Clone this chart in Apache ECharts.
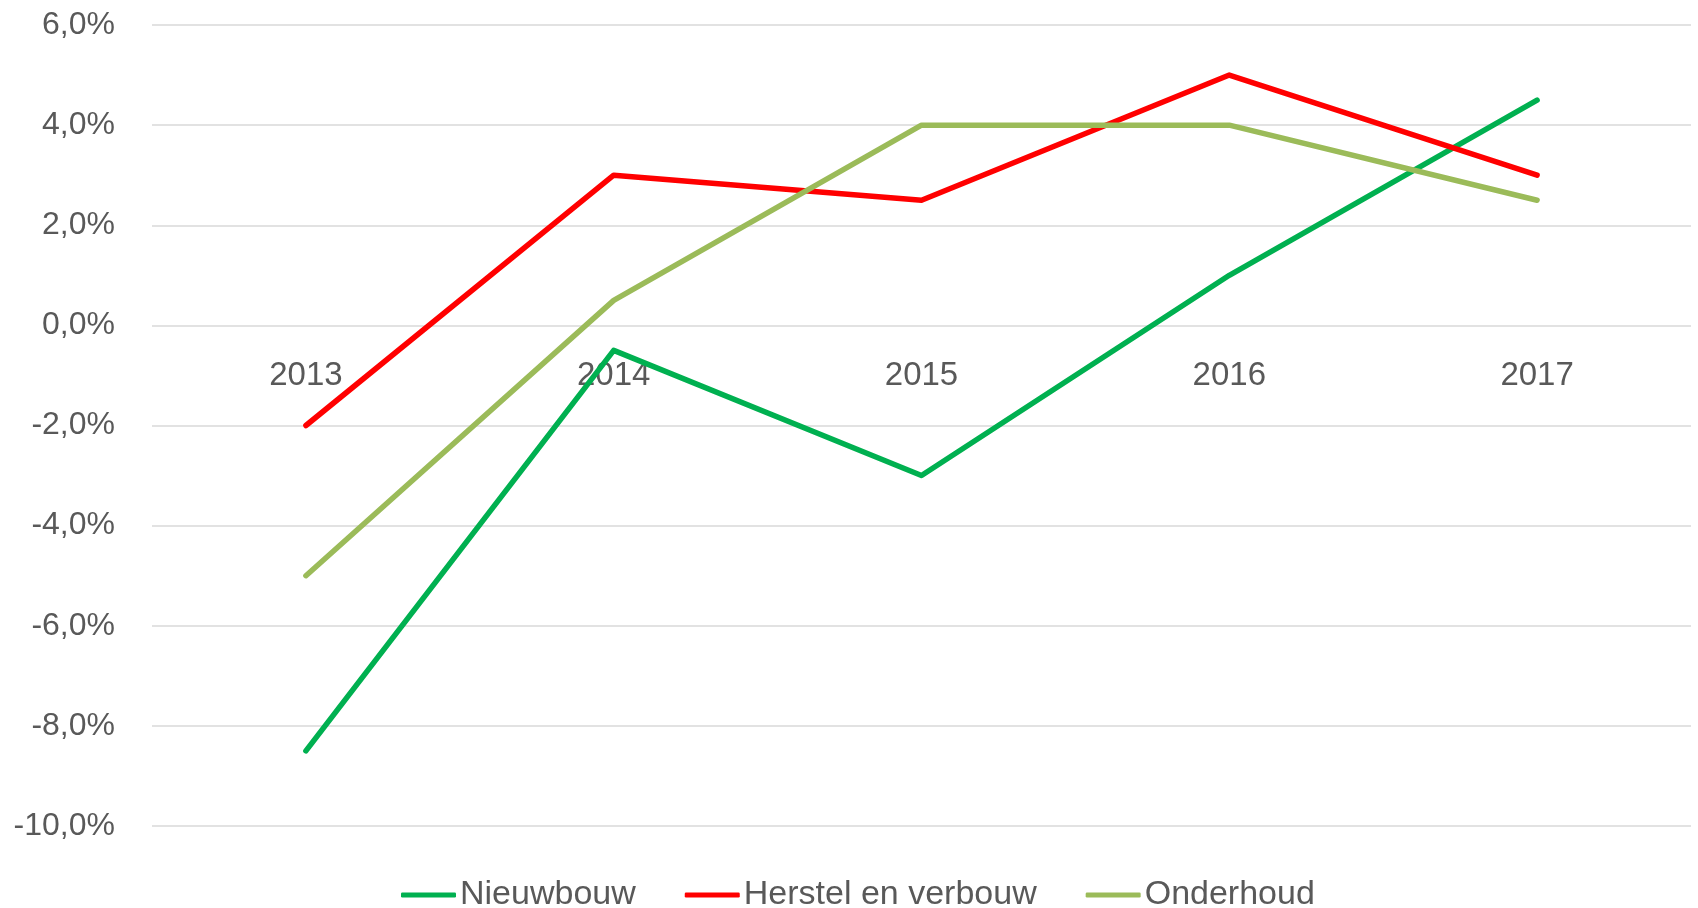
<!DOCTYPE html>
<html>
<head>
<meta charset="utf-8">
<script src="https://cdn.jsdelivr.net/npm/echarts@6/dist/echarts.min.js"></script>
<style>
  html, body { margin: 0; padding: 0; background: #fff; }
  #chart { width: 1698px; height: 908px; }
</style>
</head>
<body>
<div id="chart"></div>
<script>
// jaren op de x-as
const years = ['2013', '2014', '2015', '2016', '2017']
// procentuele groei per sector
const nieuwbouw = [-8.5, -0.5, -3.0, 1.0, 4.5]
const herstelEnVerbouw = [-2.0, 3.0, 2.5, 5.0, 3.0]
const onderhoud = [-5.0, 0.5, 4.0, 4.0, 2.5]
// y-as bereik
const yMin = -10
const yMax = 6
const yStep = 2

const textColor = '#595959'
const font = 'Liberation Sans'

// plotgebied
const gridTop = 25
const gridBottom = 82
const plotHeight = 908 - gridTop - gridBottom
// afstand van onderkant tot de nullijn, zodat de jaartallen onder 0% staan
const zeroOffset = plotHeight * (0 - yMin) / (yMax - yMin)

const makeLine = (name, data, color) => ({
  name,
  type: 'line',
  data,
  symbol: 'none',
  lineStyle: {width: 5.5, color, cap: 'round', join: 'round'},
  itemStyle: {color},
  emphasis: {disabled: true}
})

const chart = echarts.init(document.getElementById('chart'))
chart.setOption({
  animation: false,
  textStyle: {fontFamily: font},
  grid: {left: 152, right: 7, top: gridTop, bottom: gridBottom},
  legend: {
    left: 396,
    top: 873,
    icon: 'roundRect',
    itemWidth: 55,
    itemHeight: 5,
    itemGap: 49,
    textStyle: {fontSize: 34, color: textColor, fontFamily: font, padding: [0, 0, 0, -1]},
    data: ['Nieuwbouw', 'Herstel en verbouw', 'Onderhoud']
  },
  xAxis: {
    type: 'category',
    data: years,
    boundaryGap: true,
    position: 'bottom',
    offset: -zeroOffset,
    axisLine: {show: false},
    axisTick: {show: false},
    axisLabel: {fontSize: 33, color: textColor, margin: 34}
  },
  yAxis: {
    type: 'value',
    min: yMin,
    max: yMax,
    interval: yStep,
    axisLine: {show: false},
    axisTick: {show: false},
    splitLine: {lineStyle: {color: '#D9D9D9', width: 1.5}},
    axisLabel: {
      fontSize: 32,
      color: textColor,
      margin: 37,
      padding: [4, 0, 0, 0],
      formatter: v => v.toFixed(1).replace('.', ',') + '%'
    }
  },
  series: [
    makeLine('Nieuwbouw', nieuwbouw, '#00B050'),
    makeLine('Herstel en verbouw', herstelEnVerbouw, '#FF0000'),
    makeLine('Onderhoud', onderhoud, '#9BBB59')
  ]
})
</script>
</body>
</html>
